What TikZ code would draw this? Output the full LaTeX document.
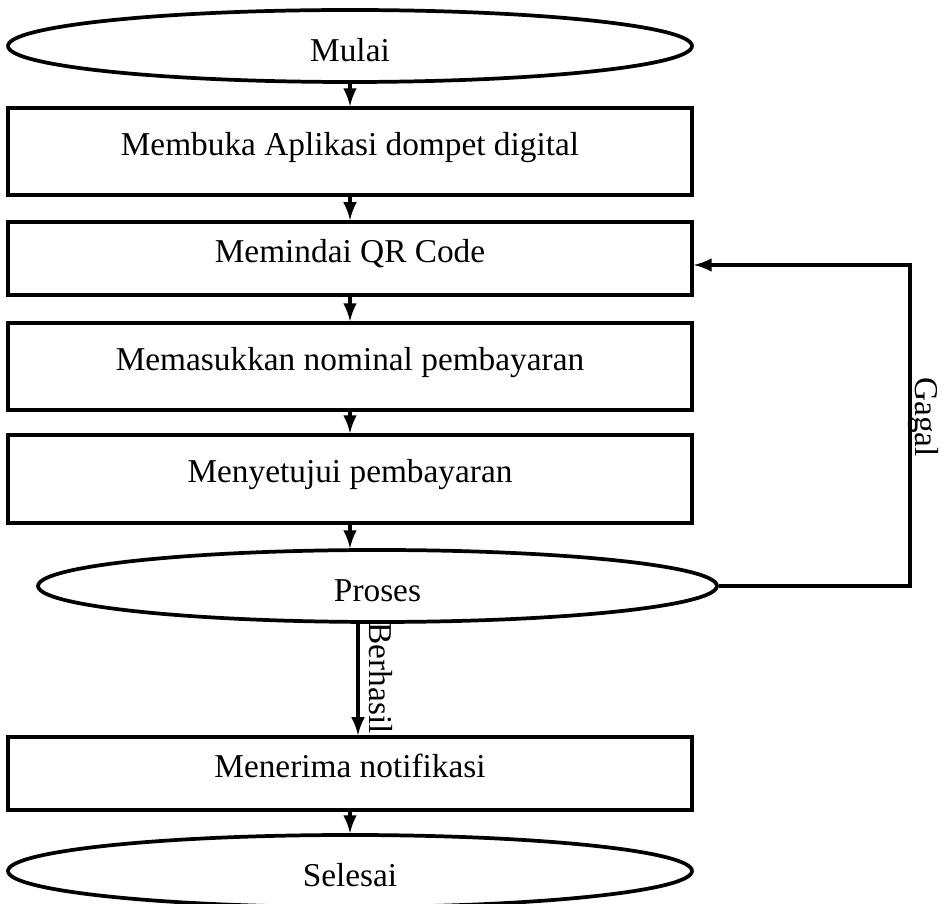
\documentclass[tikz,border=0pt]{standalone}
\usepackage{fontspec}
\setmainfont{Liberation Serif}
\usepackage{tikz}
\usetikzlibrary{calc,arrows,shapes.geometric}

\tikzset{
  proc/.style={draw,line width=1.4pt,minimum width=256.5pt,inner sep=0pt,text depth=6pt},
  term/.style={draw,ellipse,line width=1.4pt,minimum width=256.5pt,minimum height=27pt,inner sep=0pt,text height=12pt},
  flow/.style={-{latex[scale=1.35]},line width=1.3pt}
}

\begin{document}
\begin{tikzpicture}[x=0.375pt,y=-0.375pt,font=\fontsize{12.5}{15}\selectfont]
                 \useasboundingbox (0,0) rectangle (944,904);
                 \node[term](mulai)at(350,46){Mulai};
                 \node[proc,minimum height=32.6pt](buka)at(350,151.5){Membuka Aplikasi dompet digital};
                 \node[proc,minimum height=27.4pt](pindai)at(350,258.5){Memindai QR Code};
                 \node[proc,minimum height=32.6pt](nominal)at(350,366.5){Memasukkan nominal pembayaran};
                 \node[proc,minimum height=33pt](setuju)at(350,479){Menyetujui pembayaran};
                 \node[term,minimum width=254.6pt](proses)at(377.5,586){Proses};
                 \node[proc,minimum height=27.4pt](notif)at(350,773.5){Menerima notifikasi};
                 \node[term](selesai)at(350,871){Selesai};
                 \draw[flow](mulai)--(buka);
                 \draw[flow](buka)--(pindai);
                 \draw[flow](pindai)--(nominal);
                 \draw[flow](nominal)--(setuju);
                 \draw[flow](setuju.south)--(setuju.south|-proses.north);
                 \coordinate(turun)at($(notif.north)+(8,0)$);
                 \draw[flow](proses.south-|turun)--(turun);
                 \node[rotate=-90,anchor=south](berhasil)at(360,678){Berhasil};
                 \coordinate(balik)at(910,586);
                 \coordinate(masuk)at(pindai.east|-0,265);
                 \draw[flow](proses.east)--(balik)--(balik|-masuk)--(masuk);
                 \node[rotate=-90,anchor=base](gagal)at(915,417){Gagal};
                 \draw[flow](notif)--(selesai);
               \end{tikzpicture}
\end{document}
